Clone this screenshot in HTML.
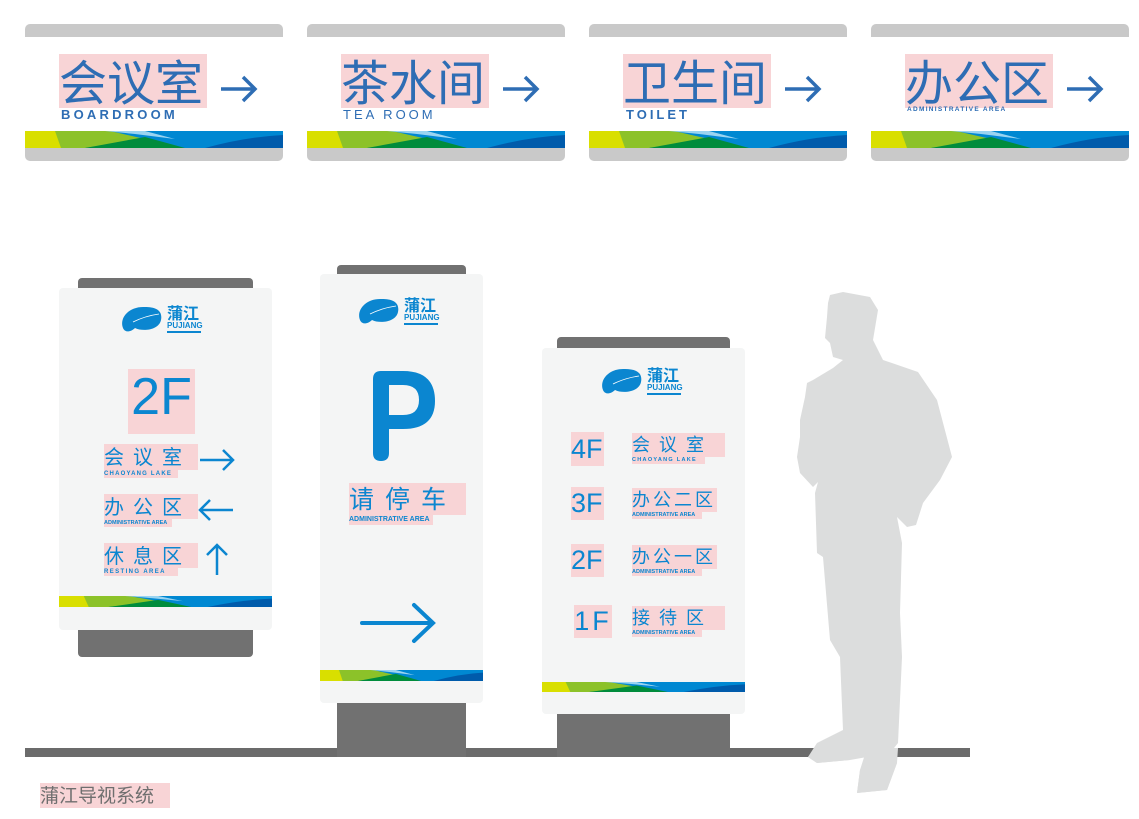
<!DOCTYPE html>
<html><head><meta charset="utf-8">
<style>
*{margin:0;padding:0;box-sizing:border-box}
body{width:1139px;height:819px;background:#fff;position:relative;overflow:hidden;font-family:"Liberation Sans","Noto Sans CJK SC",sans-serif}
.a{position:absolute}
.hl{background:#f8d4d6}
.cn{font-family:"Noto Sans CJK SC","WenQuanYi Zen Hei",sans-serif;color:#0b86d0;white-space:nowrap}
.en{font-family:"Liberation Sans",sans-serif;font-weight:bold;color:#0b86d0;white-space:nowrap}
.top .cn{color:#2e6db4}
.top .en{color:#2e6db4}
</style></head><body>
<svg width="0" height="0" style="position:absolute">
<defs>
<symbol id="st" viewBox="0 0 258 17" preserveAspectRatio="none">
<rect width="258" height="17" fill="#0088d2"/>
<path d="M0 0H32L40 17H0Z" fill="#d9df00"/>
<path d="M30 0H85L120 8L60 17H36Z" fill="#8cc229"/>
<path d="M60 17L120 6L160 17Z" fill="#008c3c"/>
<path d="M80 0H120L150 8L110 3Z" fill="#9ad4f1"/>
<path d="M180 17Q220 6 258 4V17Z" fill="#005bab"/>
</symbol>
<symbol id="lg" viewBox="0 0 90 34">
<path d="M4 26C0 16 10 4 26 5C36 5 44 8 42 18C40 28 24 30 16 26C12 30 6 31 4 26Z" fill="#0b86d0"/>
<path d="M14 20Q26 14 40 12" stroke="#fff" stroke-width="0.8" fill="none"/>
<text x="48" y="17" font-size="16" font-weight="bold" fill="#0b86d0" font-family="Noto Sans CJK SC,sans-serif">蒲江</text>
<text x="48" y="26" font-size="8" font-weight="bold" fill="#0b86d0" font-family="Liberation Sans,sans-serif">PUJIANG</text>
<rect x="48" y="29" width="34" height="2" fill="#0b86d0"/>
</symbol>
<symbol id="ar" viewBox="0 0 40 30"><path d="M2 15H36M24 3L36 15L24 27" stroke="#2e6db4" stroke-width="3.5" fill="none"/></symbol>
</defs></svg>

<!-- top signs -->
<div class="top">
<div class="a" style="left:25px;top:24px;width:258px;height:137px;background:#c9c9c9;border-radius:5px"></div>
<div class="a" style="left:25px;top:37px;width:258px;height:94px;background:#fff"></div>
<svg class="a" style="left:25px;top:131px" width="258" height="17"><use href="#st"/></svg>
<div class="a hl cn" style="left:59px;top:54px;width:148px;height:54px;font-size:48px;line-height:50px">会议室</div>
<div class="a en" style="left:61px;top:107px;font-size:13px;letter-spacing:3.2px">BOARDROOM</div>
<svg class="a" style="left:219px;top:74px" width="40" height="30"><use href="#ar"/></svg>

<div class="a" style="left:307px;top:24px;width:258px;height:137px;background:#c9c9c9;border-radius:5px"></div>
<div class="a" style="left:307px;top:37px;width:258px;height:94px;background:#fff"></div>
<svg class="a" style="left:307px;top:131px" width="258" height="17"><use href="#st"/></svg>
<div class="a hl cn" style="left:341px;top:54px;width:148px;height:54px;font-size:48px;line-height:50px">茶水间</div>
<div class="a en" style="left:343px;top:107px;font-size:13px;letter-spacing:3px;font-weight:normal">TEA ROOM</div>
<svg class="a" style="left:501px;top:74px" width="40" height="30"><use href="#ar"/></svg>

<div class="a" style="left:589px;top:24px;width:258px;height:137px;background:#c9c9c9;border-radius:5px"></div>
<div class="a" style="left:589px;top:37px;width:258px;height:94px;background:#fff"></div>
<svg class="a" style="left:589px;top:131px" width="258" height="17"><use href="#st"/></svg>
<div class="a hl cn" style="left:623px;top:54px;width:148px;height:54px;font-size:48px;line-height:50px">卫生间</div>
<div class="a en" style="left:626px;top:107px;font-size:13px;letter-spacing:3px">TOILET</div>
<svg class="a" style="left:783px;top:74px" width="40" height="30"><use href="#ar"/></svg>

<div class="a" style="left:871px;top:24px;width:258px;height:137px;background:#c9c9c9;border-radius:5px"></div>
<div class="a" style="left:871px;top:37px;width:258px;height:94px;background:#fff"></div>
<svg class="a" style="left:871px;top:131px" width="258" height="17"><use href="#st"/></svg>
<div class="a hl cn" style="left:905px;top:54px;width:148px;height:54px;font-size:48px;line-height:50px">办公区</div>
<div class="a en" style="left:907px;top:106px;font-size:6.5px;letter-spacing:1.3px">ADMINISTRATIVE AREA</div>
<svg class="a" style="left:1065px;top:74px" width="40" height="30"><use href="#ar"/></svg>
</div>

<!-- ground -->
<div class="a" style="left:25px;top:748px;width:945px;height:9px;background:#6b6b6b"></div>

<!-- left sign -->
<div class="a" style="left:78px;top:278px;width:175px;height:379px;background:#717171;border-radius:4px"></div>
<div class="a" style="left:59px;top:288px;width:213px;height:342px;background:#f4f5f5;border-radius:4px"></div>
<svg class="a" style="left:59px;top:596px" width="213" height="11"><use href="#st"/></svg>
<svg class="a" style="left:119px;top:302px" width="90" height="34"><use href="#lg"/></svg>
<div class="a hl cn" style="left:128px;top:369px;width:67px;height:65px;font-family:'Liberation Sans',sans-serif;font-size:52px;line-height:56px;text-align:center">2F</div>
<div class="a hl cn" style="left:104px;top:444px;width:94px;height:26px;font-size:20px;line-height:24px;letter-spacing:9px">会议室</div>
<div class="a hl en" style="left:104px;top:470px;width:74px;height:8px;font-size:6px;line-height:8px;letter-spacing:1.2px">CHAOYANG LAKE</div>
<div class="a hl cn" style="left:104px;top:494px;width:94px;height:25px;font-size:20px;line-height:24px;letter-spacing:9px">办公区</div>
<div class="a hl en" style="left:104px;top:519px;width:68px;height:8px;font-size:5.5px;line-height:8px">ADMINISTRATIVE AREA</div>
<div class="a hl cn" style="left:104px;top:543px;width:94px;height:25px;font-size:20px;line-height:24px;letter-spacing:9px">休息区</div>
<div class="a hl en" style="left:104px;top:568px;width:74px;height:8px;font-size:6px;line-height:8px;letter-spacing:1.4px">RESTING AREA</div>
<svg class="a" style="left:195px;top:440px" width="50" height="140" stroke="#0b86d0" stroke-width="2.5" fill="none">
<path d="M5 20H38M28 10L38 20L28 30"/>
<path d="M5 70H38M15 60L5 70L15 80"/>
<path d="M22 105V135M12 115L22 105L32 115"/>
</svg>

<!-- middle sign -->
<div class="a" style="left:337px;top:265px;width:129px;height:20px;background:#717171;border-radius:4px"></div>
<div class="a" style="left:337px;top:700px;width:129px;height:57px;background:#717171"></div>
<div class="a" style="left:320px;top:274px;width:163px;height:429px;background:#f4f5f5;border-radius:4px"></div>
<svg class="a" style="left:320px;top:670px" width="163" height="11"><use href="#st"/></svg>
<svg class="a" style="left:356px;top:294px" width="90" height="34"><use href="#lg"/></svg>
<svg class="a" style="left:365px;top:365px" width="80" height="100"><path d="M8 14Q8 6 16 6H38Q70 6 70 36Q70 64 38 64H24V88Q24 96 16 96Q8 96 8 88Z M24 20V50H38Q54 50 54 35Q54 20 38 20Z" fill="#0b86d0" fill-rule="evenodd"/></svg>
<div class="a hl cn" style="left:349px;top:483px;width:117px;height:32px;font-size:25px;line-height:30px;letter-spacing:11px">请停车</div>
<div class="a hl en" style="left:349px;top:515px;width:84px;height:10px;font-size:7px;line-height:10px">ADMINISTRATIVE AREA</div>
<svg class="a" style="left:358px;top:600px" width="82" height="46" stroke="#0b86d0" stroke-width="4" fill="none" stroke-linecap="round"><path d="M4 23H74M56 5L75 23L56 41"/></svg>

<!-- right sign -->
<div class="a" style="left:557px;top:337px;width:173px;height:20px;background:#717171;border-radius:4px"></div>
<div class="a" style="left:557px;top:712px;width:173px;height:45px;background:#717171"></div>
<div class="a" style="left:542px;top:348px;width:203px;height:366px;background:#f4f5f5;border-radius:4px"></div>
<svg class="a" style="left:542px;top:682px" width="203" height="10"><use href="#st"/></svg>
<svg class="a" style="left:599px;top:364px" width="90" height="34"><use href="#lg"/></svg>

<div class="a hl cn" style="left:571px;top:432px;width:33px;height:34px;font-family:'Liberation Sans',sans-serif;font-size:27px;line-height:34px">4F</div>
<div class="a hl cn" style="left:632px;top:433px;width:93px;height:24px;font-size:18px;line-height:22px;letter-spacing:9px">会议室</div>
<div class="a hl en" style="left:632px;top:457px;width:73px;height:7px;font-size:5.5px;line-height:7px;letter-spacing:1.3px">CHAOYANG LAKE</div>

<div class="a hl cn" style="left:571px;top:487px;width:33px;height:33px;font-family:'Liberation Sans',sans-serif;font-size:27px;line-height:33px">3F</div>
<div class="a hl cn" style="left:632px;top:488px;width:85px;height:24px;font-size:18px;line-height:22px;letter-spacing:3px">办公二区</div>
<div class="a hl en" style="left:632px;top:512px;width:70px;height:7px;font-size:5.5px;line-height:7px">ADMINISTRATIVE AREA</div>

<div class="a hl cn" style="left:571px;top:544px;width:33px;height:33px;font-family:'Liberation Sans',sans-serif;font-size:27px;line-height:33px">2F</div>
<div class="a hl cn" style="left:632px;top:545px;width:85px;height:24px;font-size:18px;line-height:22px;letter-spacing:3px">办公一区</div>
<div class="a hl en" style="left:632px;top:569px;width:70px;height:7px;font-size:5.5px;line-height:7px">ADMINISTRATIVE AREA</div>

<div class="a hl cn" style="left:574px;top:605px;width:38px;height:33px;font-family:'Liberation Sans',sans-serif;font-size:27px;line-height:33px;letter-spacing:3px;text-align:center">1F</div>
<div class="a hl cn" style="left:632px;top:606px;width:93px;height:24px;font-size:18px;line-height:22px;letter-spacing:9px">接待区</div>
<div class="a hl en" style="left:632px;top:630px;width:70px;height:7px;font-size:5.5px;line-height:7px">ADMINISTRATIVE AREA</div>

<!-- person -->
<svg class="a" style="left:0;top:0" width="1139" height="819"><path fill="#dcdddd" d="M830 295L843 292L870 297L878 310L873 340L883 360L918 372L937 400L952 457L940 480L923 503L916 525L907 527L897 517L902 543L900 613L902 657L898 743L890 753L897 763L887 790L857 793L860 770L867 757L850 760L817 763L808 757L817 743L843 730L840 657L830 640L823 557L817 553L815 493L818 482L813 487L800 473L797 457L800 437L800 420L805 397L807 383L813 380L833 368L843 360L833 357L830 343L825 338L827 317L828 303Z"/></svg>
<svg class="a" style="left:0;top:0" width="1139" height="819"><rect x="870" y="748" width="100" height="9" fill="#6b6b6b"/><path fill="#dcdddd" d="M867 748L898 748L897 763L887 790L857 793L860 770Z M808 757L817 748L850 748L850 760L817 763Z"/></svg>

<div class="a hl" style="left:40px;top:783px;width:130px;height:25px;font-family:'Noto Sans CJK SC',sans-serif;font-size:19px;line-height:24px;color:#6f6f6f">蒲江导视系统</div>
</body></html>
